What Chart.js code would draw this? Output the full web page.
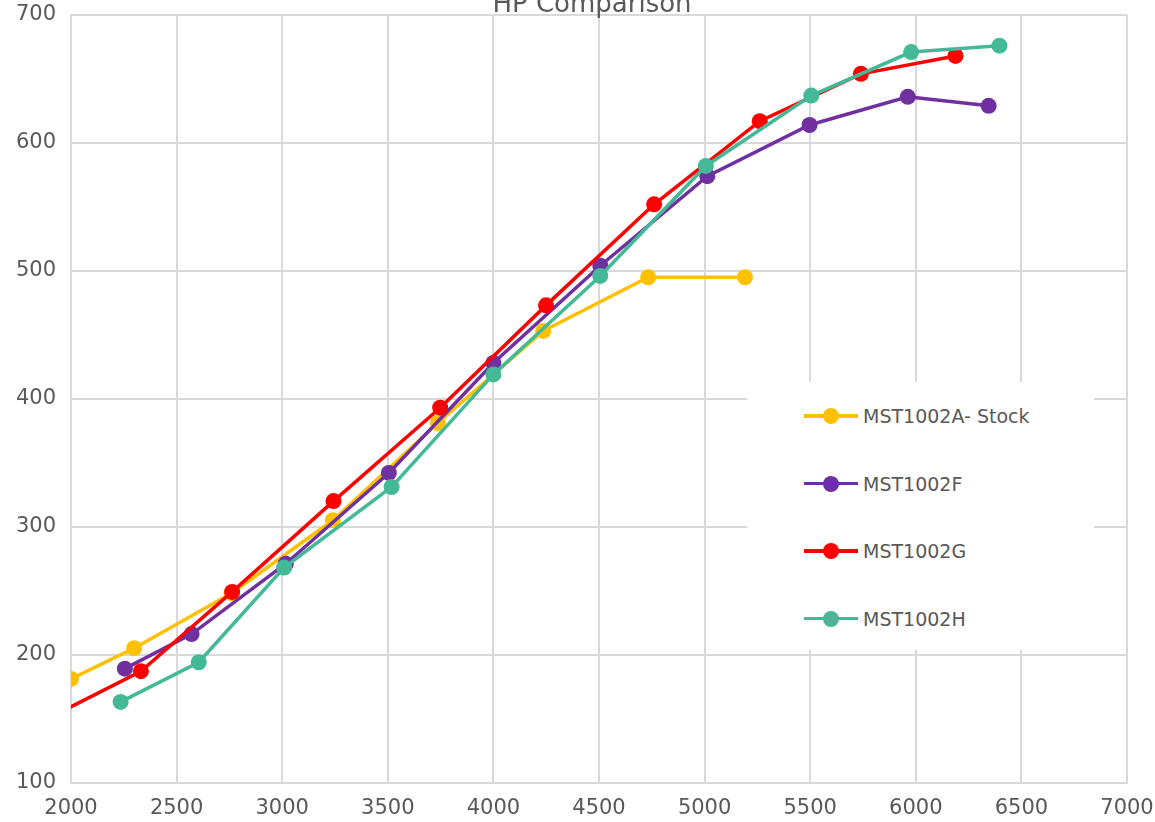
<!DOCTYPE html>
<html>
<head>
<meta charset="utf-8">
<title>HP Comparison</title>
<script src="https://cdn.jsdelivr.net/npm/chart.js"></script>
<style>
  body { margin: 0; background: #fff; overflow: hidden; }
  #wrap { position: relative; width: 1155px; height: 822px; }
  #titulo {
    position: absolute; left: 0; top: -10px; width: 1184px;
    text-align: center; font: 26px/26px "DejaVu Sans", sans-serif; color: #595959;
  }
  #leyenda {
    position: absolute; left: 747px; top: 382px; width: 347px; height: 268px;
    background: #fff; box-sizing: border-box;
  }
  .item { position: relative; height: 67.5px; }
  .linea { position: absolute; left: 57px; top: 32px; width: 54px; height: 3.5px; }
  .punto { position: absolute; left: 76px; top: 26px; width: 16px; height: 16px; border-radius: 50%; }
  .texto {
    position: absolute; left: 116px; top: 22px;
    font: 19px/24px "DejaVu Sans", sans-serif; color: #595959; white-space: nowrap;
  }
</style>
</head>
<body>
<div id="wrap">
  <canvas id="myChart"></canvas>
  <div id="titulo">HP Comparison</div>
  <div id="leyenda"></div>
</div>
<script>
// valores
const seriesNames = ["MST1002A- Stock", "MST1002F", "MST1002G", "MST1002H"];
const colores = ["#FFC000", "#7030A0", "#FF0000", "#44B997"];

const stockRpm = [2000, 2299, 2760, 3240, 3737, 4236, 4733, 5191];
const stockHp = [181, 205, 248, 305, 381, 453, 495, 495];

const fRpm = [2255, 2571, 3017, 3505, 4000, 4506, 5013, 5497, 5962, 6345];
const fHp = [189, 216, 271, 342, 428, 504, 574, 614, 636, 629];

const gRpm = [1830, 2331, 2763, 3243, 3748, 4249, 4761, 5261, 5740, 6188];
const gHp = [145, 187, 249, 320, 393, 473, 552, 617, 654, 668];

const hRpm = [2235, 2605, 3009, 3518, 4000, 4506, 5006, 5505, 5978, 6396];
const hHp = [163, 194, 268, 331, 419, 496, 582, 637, 671, 676];

const xTicks = [2000, 2500, 3000, 3500, 4000, 4500, 5000, 5500, 6000, 6500, 7000];
const yTicks = [100, 200, 300, 400, 500, 600, 700];

const puntos = (xs, ys) => xs.map((x, i) => ({ x: x, y: ys[i] }));

const serie = (i, xs, ys) => ({
  label: seriesNames[i],
  data: puntos(xs, ys),
  borderColor: colores[i],
  backgroundColor: colores[i],
  borderWidth: 3.5,
  pointRadius: 8,
  pointHoverRadius: 8,
  pointBorderWidth: 0,
  tension: 0,
  order: 3 - i
});

const datasets = [
  serie(0, stockRpm, stockHp),
  serie(1, fRpm, fHp),
  serie(2, gRpm, gHp),
  serie(3, hRpm, hHp)
];
// la G empieza fuera del eje, se corta en el borde izquierdo
datasets[2].clip = { left: 0, right: 10, top: 10, bottom: 10 };

const fuenteTicks = { family: "DejaVu Sans", size: 21 };
const gris = "#d9d9d9";

const config = {
  type: "line",
  data: { datasets },
  options: {
    responsive: true,
    maintainAspectRatio: false,
    animation: false,
    layout: { padding: { left: 0, right: 28, top: 15, bottom: 0 } },
    plugins: {
      legend: { display: false },
      title: { display: false },
      tooltip: { enabled: false }
    },
    scales: {
      x: {
        type: "linear",
        min: xTicks[0],
        max: xTicks[xTicks.length - 1],
        afterBuildTicks: (s) => { s.ticks = xTicks.map((v) => ({ value: v })); },
        afterFit: (s) => { s.height = 39.5; s.paddingLeft = 0; s.paddingRight = 0; },
        ticks: { color: "#595959", font: fuenteTicks, padding: 13, maxRotation: 0, callback: (v) => String(v) },
        grid: { color: gris, lineWidth: 2, drawTicks: false },
        border: { color: gris, width: 2 }
      },
      y: {
        type: "linear",
        min: yTicks[0],
        max: yTicks[yTicks.length - 1],
        afterBuildTicks: (s) => { s.ticks = yTicks.map((v) => ({ value: v })); },
        afterFit: (s) => { s.width = 71; s.paddingTop = 0; s.paddingBottom = 0; },
        ticks: { color: "#595959", font: fuenteTicks, padding: 15, callback: (v) => String(v) },
        grid: { color: gris, lineWidth: 2, drawTicks: false },
        border: { color: gris, width: 2 }
      }
    }
  }
};

const myChart = new Chart(document.getElementById("myChart"), config);

// leyenda dentro del area del grafico
let body = "";
myChart.data.datasets.forEach((d) => {
  body += `<div class="item">
             <span class="linea" style="background:${d.borderColor}"></span>
             <span class="punto" style="background:${d.borderColor}"></span>
             <span class="texto">${d.label}</span>
           </div>`;
});
document.getElementById("leyenda").innerHTML = body;
</script>
</body>
</html>
